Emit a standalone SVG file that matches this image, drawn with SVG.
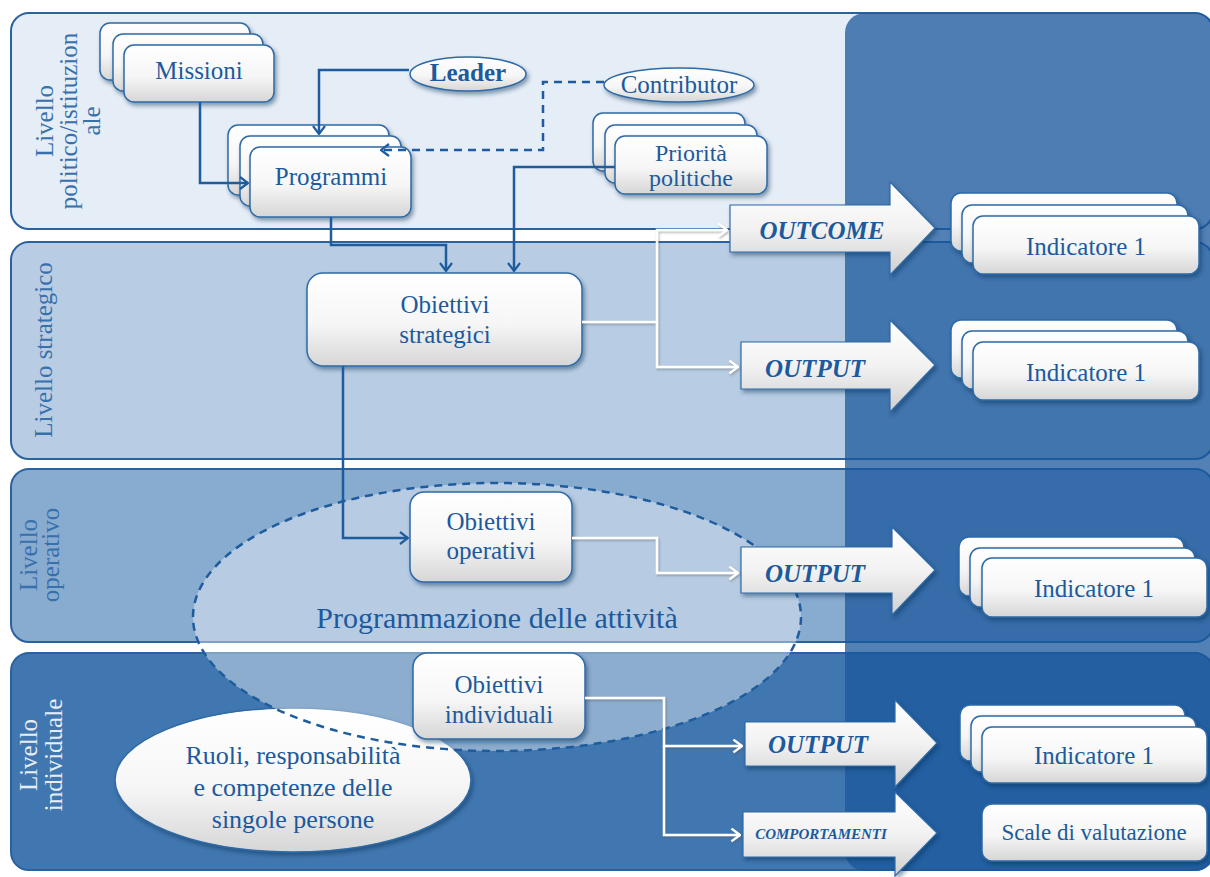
<svg xmlns="http://www.w3.org/2000/svg" width="1210" height="877" viewBox="0 0 1210 877">
<defs>
<linearGradient id="gBox" x1="0" y1="0" x2="0" y2="1"><stop offset="0" stop-color="#ffffff"/><stop offset="0.55" stop-color="#f6f6f6"/><stop offset="1" stop-color="#d6d6d6"/></linearGradient>
<linearGradient id="gArr" x1="0" y1="0" x2="0" y2="1"><stop offset="0" stop-color="#ffffff"/><stop offset="0.5" stop-color="#f2f2f2"/><stop offset="1" stop-color="#cfcfcf"/></linearGradient>
<filter id="sh" x="-10%" y="-10%" width="125%" height="140%"><feDropShadow dx="2" dy="3" stdDeviation="2" flood-color="#0b2d55" flood-opacity="0.45"/></filter>
<filter id="wsh" filterUnits="userSpaceOnUse" x="0" y="0" width="1210" height="877"><feDropShadow dx="1" dy="1.5" stdDeviation="0.8" flood-color="#555" flood-opacity="0.45"/></filter>
<marker id="ab" viewBox="0 0 10 14" refX="9" refY="7" markerWidth="10" markerHeight="14" markerUnits="userSpaceOnUse" orient="auto"><path d="M1,1 L9,7 L1,13" fill="none" stroke="#1f5c9e" stroke-width="2.2"/></marker>
<marker id="aw" viewBox="0 0 10 14" refX="9" refY="7" markerWidth="11" markerHeight="15" markerUnits="userSpaceOnUse" orient="auto"><path d="M1,1 L9,7 L1,13" fill="none" stroke="#ffffff" stroke-width="2.2"/></marker>
</defs>
<style>
.band{stroke:#2a62a0;stroke-width:2}
.box{fill:url(#gBox);stroke:#2f6aa6;stroke-width:1.5;filter:url(#sh)}
.arr{fill:url(#gArr);stroke:#2f6aa6;stroke-width:1.2;filter:url(#sh)}
.lbl{font-family:"Liberation Serif","Times New Roman",serif;font-size:25px;fill:#3870ab;text-anchor:middle}
.txt{font-family:"Liberation Serif","Times New Roman",serif;font-size:25px;fill:#1c5a9d;text-anchor:middle}
.bi{font-weight:bold;font-style:italic}
.conn{fill:none;stroke:#1f5c9e;stroke-width:2.5}
.wconn{fill:none;stroke:#ffffff;stroke-width:2.5}
</style>

<g id="bands">
<rect class="band" x="11" y="13" width="1202" height="216" rx="18" fill="#e5edf6"/>
<rect class="band" x="11" y="242" width="1202" height="217" rx="18" fill="#b8cde3"/>
<rect class="band" x="11" y="469" width="1202" height="173" rx="18" fill="#88abd0"/>
<rect class="band" x="11" y="653" width="1202" height="217" rx="18" fill="#4177b0"/>
<text class="lbl" transform="translate(53,121) rotate(-90)"><tspan x="0" y="0">Livello</tspan><tspan x="0" dy="24">politico/istituzion</tspan><tspan x="0" dy="23">ale</tspan></text>
<text class="lbl" transform="translate(52,350) rotate(-90)">Livello strategico</text>
<text class="lbl" transform="translate(37,555) rotate(-90)"><tspan x="0" y="0">Livello</tspan><tspan x="0" dy="22">operativo</tspan></text>
<text class="lbl" style="fill:#e6edf5" transform="translate(37,755) rotate(-90)"><tspan x="0" y="0">Livello</tspan><tspan x="0" dy="25">individuale</tspan></text>
</g>

<g id="results-panel">
<rect x="845" y="13" width="370" height="858" rx="20" fill="#1a579c" fill-opacity="0.75"/>
</g>

<g id="ruoli">
<ellipse class="box" cx="293" cy="780" rx="178" ry="72"/>
<text class="txt" style="font-size:26px"><tspan x="293" y="764">Ruoli, responsabilità</tspan><tspan x="293" y="796">e competenze delle</tspan><tspan x="293" y="828">singole persone</tspan></text>
</g>

<g id="programmazione">
<ellipse cx="497" cy="617" rx="304" ry="134" fill="#ffffff" fill-opacity="0.4" stroke="#1f5c9e" stroke-width="2.5" stroke-dasharray="8 6"/>
<text class="txt" x="497" y="628" style="font-size:30px">Programmazione delle attività</text>
</g>

<g id="missioni">
<rect class="box" x="100" y="23" width="150" height="57" rx="10"/>
<rect class="box" x="113" y="34" width="150" height="57" rx="10"/>
<rect class="box" x="124" y="45" width="150" height="57" rx="10"/>
<text class="txt" x="199" y="79">Missioni</text>
</g>

<g id="programmi">
<rect class="box" x="228" y="125" width="161" height="70" rx="10"/>
<rect class="box" x="240" y="136" width="161" height="70" rx="10"/>
<rect class="box" x="250" y="147" width="161" height="70" rx="10"/>
<text class="txt" x="331" y="185">Programmi</text>
</g>

<g id="leader">
<ellipse class="box" cx="468" cy="74" rx="58" ry="17"/>
<text class="txt" x="468" y="81" style="font-weight:bold">Leader</text>
</g>

<g id="contributor">
<ellipse class="box" cx="679" cy="85" rx="75" ry="17"/>
<text class="txt" x="679" y="93">Contributor</text>
</g>

<g id="priorita">
<rect class="box" x="593" y="113" width="152" height="58" rx="10"/>
<rect class="box" x="605" y="125" width="152" height="58" rx="10"/>
<rect class="box" x="615" y="136" width="152" height="58" rx="10"/>
<text class="txt" style="font-size:24px"><tspan x="691" y="161">Priorità</tspan><tspan x="691" y="186">politiche</tspan></text>
</g>

<g id="obiettivi-strategici">
<rect class="box" x="307" y="273" width="275" height="93" rx="16"/>
<text class="txt"><tspan x="445" y="313">Obiettivi</tspan><tspan x="445" y="343">strategici</tspan></text>
</g>

<g id="obiettivi-operativi">
<rect class="box" x="410" y="492" width="162" height="90" rx="14"/>
<text class="txt"><tspan x="491" y="530">Obiettivi</tspan><tspan x="491" y="559">operativi</tspan></text>
</g>

<g id="obiettivi-individuali">
<rect class="box" x="413" y="653" width="172" height="86" rx="14"/>
<text class="txt"><tspan x="499" y="693">Obiettivi</tspan><tspan x="499" y="723">individuali</tspan></text>
</g>

<g id="outcome">
<path class="arr" d="M730,205 H890 V182 L935,228 L890,275 V252 H730 Z"/>
<text class="txt bi" x="822" y="239">OUTCOME</text>
</g>

<g id="output-strategico">
<path class="arr" d="M741,342 H890 V320 L935,365 L890,412 V389 H741 Z"/>
<text class="txt bi" x="815" y="377">OUTPUT</text>
</g>

<g id="output-operativo">
<path class="arr" d="M741,547 H892 V527 L935,570 L892,615 V593 H741 Z"/>
<text class="txt bi" x="815" y="582">OUTPUT</text>
</g>

<g id="output-individuale">
<path class="arr" d="M745,722 H895 V700 L937,743 L895,787 V766 H745 Z"/>
<text class="txt bi" x="818" y="753">OUTPUT</text>
</g>

<g id="comportamenti">
<path class="arr" d="M743,812 H895 V792 L937,833 L895,876 V857 H743 Z"/>
<text class="txt bi" x="821" y="839" style="font-size:15px">COMPORTAMENTI</text>
</g>

<g id="indicatore-outcome">
<rect class="box" x="951" y="193" width="226" height="58" rx="10"/>
<rect class="box" x="962" y="205" width="226" height="58" rx="10"/>
<rect class="box" x="973" y="216" width="226" height="58" rx="10"/>
<text class="txt" x="1086" y="255">Indicatore 1</text>
</g>

<g id="indicatore-strategico">
<rect class="box" x="951" y="320" width="226" height="58" rx="10"/>
<rect class="box" x="962" y="331" width="226" height="58" rx="10"/>
<rect class="box" x="973" y="342" width="226" height="58" rx="10"/>
<text class="txt" x="1086" y="381">Indicatore 1</text>
</g>

<g id="indicatore-operativo">
<rect class="box" x="959" y="537" width="225" height="59" rx="10"/>
<rect class="box" x="970" y="548" width="225" height="59" rx="10"/>
<rect class="box" x="982" y="558" width="225" height="59" rx="10"/>
<text class="txt" x="1094" y="597">Indicatore 1</text>
</g>

<g id="indicatore-individuale">
<rect class="box" x="960" y="705" width="225" height="56" rx="10"/>
<rect class="box" x="971" y="716" width="225" height="56" rx="10"/>
<rect class="box" x="982" y="727" width="225" height="56" rx="10"/>
<text class="txt" x="1094" y="764">Indicatore 1</text>
</g>

<g id="scale">
<rect class="box" x="982" y="804" width="225" height="57" rx="10"/>
<text class="txt" x="1094" y="840" style="font-size:23px">Scale di valutazione</text>
</g>

<g id="connectors">
<path class="conn" d="M409,70 H319 V134" marker-end="url(#ab)"/>
<path class="conn" d="M200,102 V183 H248" marker-end="url(#ab)"/>
<path class="conn" d="M604,82 H543 V150 H381" stroke-dasharray="8 6" marker-end="url(#ab)"/>
<path class="conn" d="M615,167 H514 V271" marker-end="url(#ab)"/>
<path class="conn" d="M331,217 V245 H446 V271" marker-end="url(#ab)"/>
<path class="conn" d="M343,366 V538 H408" marker-end="url(#ab)"/>
<g filter="url(#wsh)">
<path class="wconn" d="M582,322 H657 V230 H727" marker-end="url(#aw)"/>
<path class="wconn" d="M657,322 V367 H738" marker-end="url(#aw)"/>
<path class="wconn" d="M572,538 H657 V573 H738" marker-end="url(#aw)"/>
<path class="wconn" d="M585,698 H664 V746 H742" marker-end="url(#aw)"/>
<path class="wconn" d="M664,746 V835 H740" marker-end="url(#aw)"/>
</g>
</g>
</svg>
